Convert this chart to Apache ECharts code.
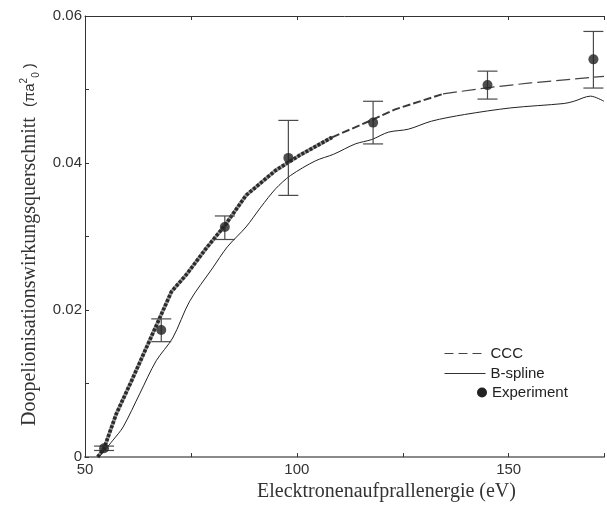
<!DOCTYPE html>
<html>
<head>
<meta charset="utf-8">
<script src="https://cdn.jsdelivr.net/npm/echarts@6/dist/echarts.min.js"></script>
<style>
  html, body { margin: 0; padding: 0; background: #fff; }
  #chart { width: 607px; height: 507px; }
</style>
</head>
<body>
<div id="chart"></div>
<script>
// Double-ionisation cross section vs. electron impact energy
const energyCCC = [53.0, 54.5, 57.4, 61.0, 64.5, 68.0, 70.4, 73.9, 78.6, 83.0, 88.0, 95.0, 100.5, 108.3, 117.9, 123.2, 134.5, 144.3, 155.2, 172.5];
const sigmaCCC  = [0.0000, 0.0012, 0.0059, 0.0104, 0.0149, 0.0194, 0.0225, 0.0248, 0.0284, 0.0315, 0.0356, 0.0390, 0.0410, 0.0435, 0.0459, 0.0473, 0.0494, 0.0502, 0.0509, 0.0518];

const energyBS = [53.3, 56.6, 59.0, 62.9, 66.8, 70.7, 74.7, 80.1, 83.6, 88.0, 91.5, 95.0, 98.5, 104.4, 108.7, 113.8, 117.7, 121.6, 126.3, 131.8, 139.6, 150.5, 163.1, 165.4, 169.3, 172.5];
const sigmaBS  = [0.0000, 0.0023, 0.0041, 0.0086, 0.0131, 0.0162, 0.0212, 0.0257, 0.0286, 0.0313, 0.0340, 0.0365, 0.0383, 0.0403, 0.0412, 0.0426, 0.0432, 0.0442, 0.0446, 0.0457, 0.0466, 0.0475, 0.0481, 0.0484, 0.0491, 0.0484];

const energyExp = [54.5, 68, 83, 98, 118, 145, 170];
const sigmaExp  = [0.0012, 0.0173, 0.0313, 0.0407, 0.0455, 0.0506, 0.0541];
const errLow    = [0.0009, 0.0157, 0.0296, 0.0356, 0.0426, 0.0487, 0.0502];
const errHigh   = [0.0015, 0.0188, 0.0328, 0.0458, 0.0484, 0.0525, 0.0579];

const xTickLabels = [50, 100, 150];
const yTickLabels = [0, 0.02, 0.04, 0.06];

const pairs = (xs, ys, from, to) => xs.slice(from, to).map((x, i) => [x, ys[from + i]]);

// CCC curve: dense heavy dashes near threshold, lighter dashes at higher energy
const cccHeavy  = pairs(energyCCC, sigmaCCC, 0, 14);
const cccMedium = pairs(energyCCC, sigmaCCC, 13, 17);
const cccLight  = pairs(energyCCC, sigmaCCC, 16, energyCCC.length);
const bspline   = pairs(energyBS, sigmaBS, 0, energyBS.length);
const expPoints = pairs(energyExp, sigmaExp, 0, energyExp.length);
const expErr    = energyExp.map((x, i) => [x, errLow[i], errHigh[i]]);

const sans = '"Liberation Sans", Arial, sans-serif';
const serif = '"Liberation Serif", "Times New Roman", serif';
const X_MIN = 50, X_MAX = 172.5;

const chart = echarts.init(document.getElementById('chart'), null, { renderer: 'canvas' });

chart.setOption({
  animation: false,
  backgroundColor: '#ffffff',
  color: ['#333333'],
  grid: { left: 85, top: 16, right: 0, bottom: 47, containLabel: false },
  legend: [
    {
      orient: 'vertical', left: 439, top: 341,
      itemWidth: 41, itemHeight: 14, itemGap: 5,
      textStyle: { fontFamily: sans, fontSize: 15, color: '#222' },
      data: [
        { name: 'CCC', itemStyle: { opacity: 0 }, lineStyle: { type: [9, 5], width: 1, color: '#444' } },
        { name: 'B-spline', itemStyle: { opacity: 0 }, lineStyle: { type: 'solid', width: 1, color: '#333' } }
      ]
    },
    {
      orient: 'vertical', left: 472, top: 380,
      itemWidth: 10, itemHeight: 10,
      textStyle: { fontFamily: sans, fontSize: 15, color: '#222' },
      data: [{ name: 'Experiment', icon: 'circle', itemStyle: { color: '#222' } }]
    }
  ],
  xAxis: [
    {
      type: 'value', min: X_MIN, max: X_MAX, interval: 25,
      name: 'Elecktronenaufprallenergie (eV)',
      nameLocation: 'middle', nameGap: 24,
      nameTextStyle: { fontFamily: serif, fontSize: 20, color: '#333', padding: [0, 0, 0, 84] },
      axisLine: { show: true, onZero: false, lineStyle: { color: '#8a8a8a', width: 2 } },
      axisTick: { show: true, inside: true, length: 4, lineStyle: { color: '#333', width: 1 } },
      axisLabel: {
        margin: 5, fontFamily: sans, fontSize: 15, color: '#333',
        formatter: v => (xTickLabels.includes(Math.round(v * 10) / 10) ? String(Math.round(v)) : '')
      },
      splitLine: { show: false }
    },
    {
      type: 'value', position: 'top', min: X_MIN, max: X_MAX, interval: 25,
      axisLine: { show: true, onZero: false, lineStyle: { color: '#333', width: 1 } },
      axisTick: { show: true, inside: true, length: 4, lineStyle: { color: '#333', width: 1 } },
      axisLabel: { show: false },
      splitLine: { show: false }
    }
  ],
  yAxis: {
    type: 'value', min: 0, max: 0.06, interval: 0.01,
    name: 'Doopelionisationswirkungsquerschnitt  {sym|(\u03C0a}{sup|2}{sub|0}{sym| )}',
    nameLocation: 'middle', nameGap: 44, nameRotate: 90,
    nameTextStyle: {
      fontFamily: serif, fontSize: 20, color: '#333', padding: [0, 16, 0, 0],
      rich: {
        sym: { fontFamily: sans, fontSize: 15, color: '#333' },
        sup: { fontFamily: sans, fontSize: 10, color: '#333', verticalAlign: 'top', lineHeight: 22 },
        sub: { fontFamily: sans, fontSize: 10, color: '#333', verticalAlign: 'bottom', lineHeight: 22 }
      }
    },
    axisLine: { show: true, onZero: false, lineStyle: { color: '#333', width: 1 } },
    axisTick: { show: true, inside: true, length: 4, lineStyle: { color: '#333', width: 1 } },
    axisLabel: {
      margin: 3, fontFamily: sans, fontSize: 15, color: '#333',
      formatter: v => {
        const r = Math.round(v * 100) / 100;
        return yTickLabels.includes(r) && Math.abs(v - r) < 1e-9 ? String(r) : '';
      }
    },
    splitLine: { show: false }
  },
  series: [
    {
      name: 'CCC', type: 'line', data: cccHeavy, symbol: 'none',
      itemStyle: { color: '#444' },
      lineStyle: { color: '#9a9a9a', width: 3.6, type: 'solid' }, z: 3
    },
    {
      name: 'CCC', type: 'line', data: cccHeavy, symbol: 'none',
      itemStyle: { color: '#444' },
      lineStyle: { color: '#2b2b2b', width: 3.6, type: [3, 1.6] }, z: 3
    },
    {
      name: 'CCC', type: 'line', data: cccMedium, symbol: 'none',
      itemStyle: { color: '#444' },
      lineStyle: { color: '#3a3a3a', width: 2, type: [8, 3] }, z: 3
    },
    {
      name: 'CCC', type: 'line', data: cccLight, symbol: 'none',
      itemStyle: { color: '#444' },
      lineStyle: { color: '#444', width: 1.2, type: [14, 5] }, z: 3
    },
    {
      name: 'B-spline', type: 'line', data: bspline, symbol: 'none', smooth: 0.3,
      itemStyle: { color: '#222' },
      lineStyle: { color: '#222', width: 1 }, z: 3
    },
    {
      name: 'Experiment', type: 'custom', data: expErr, z: 4,
      itemStyle: { color: '#222' },
      renderItem: (params, api) => {
        const x = api.value(0);
        const lo = api.coord([x, api.value(1)]);
        const hi = api.coord([x, api.value(2)]);
        const half = 10;
        const style = { stroke: '#4a4a4a', lineWidth: 1.2 };
        return {
          type: 'group',
          children: [
            { type: 'line', shape: { x1: lo[0], y1: lo[1], x2: hi[0], y2: hi[1] }, style },
            { type: 'line', shape: { x1: lo[0] - half, y1: lo[1], x2: lo[0] + half, y2: lo[1] }, style },
            { type: 'line', shape: { x1: hi[0] - half, y1: hi[1], x2: hi[0] + half, y2: hi[1] }, style }
          ]
        };
      },
      encode: { x: 0, y: [1, 2] }
    },
    {
      name: 'Experiment', type: 'scatter', data: expPoints, symbol: 'circle', symbolSize: 10,
      itemStyle: { color: '#222' }, z: 5
    }
  ]
});
</script>
</body>
</html>
